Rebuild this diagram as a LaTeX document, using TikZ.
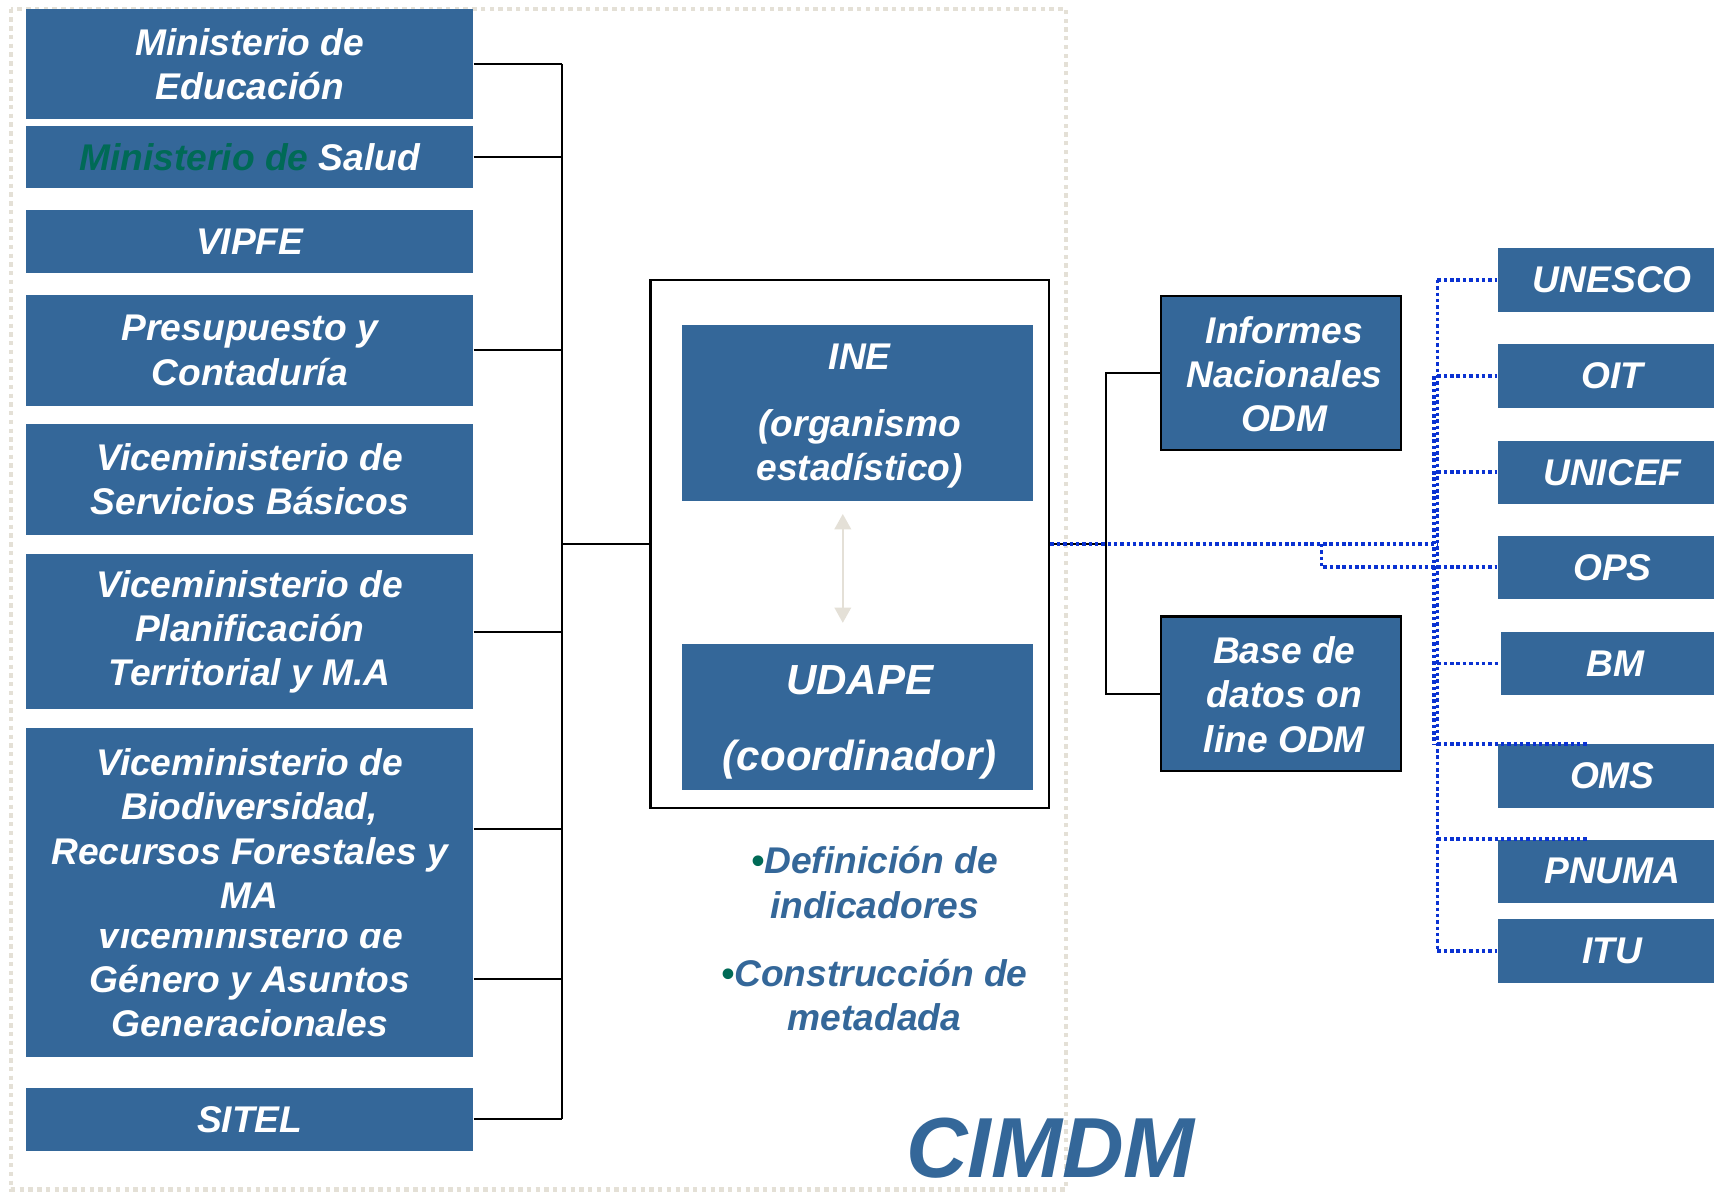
\documentclass[tikz,border=0pt]{standalone}
\usepackage{fontspec}
\setmainfont{Liberation Sans}
\usetikzlibrary{arrows.meta,calc}
\definecolor{boxblue}{HTML}{346799}
\definecolor{msgreen}{HTML}{006A56}
\definecolor{dotblue}{HTML}{0A32D2}
\definecolor{framegray}{HTML}{E4E0D6}
\definecolor{arrgray}{HTML}{E4E0D7}
\begin{document}
\begin{tikzpicture}[x=1pt,y=-1pt,
  bfont/.style={font=\bfseries\itshape\fontsize{34}{40.5}\selectfont},
  lbox/.style={bfont,fill=boxblue,text=white,minimum width=409pt,inner sep=0pt,align=center},
  rbox/.style={bfont,fill=boxblue,text=white,minimum width=210pt,minimum height=58pt,inner sep=0pt,align=center},
  obox/.style={fill=boxblue,draw=black,line width=2pt,minimum width=220pt,minimum height=141pt,inner sep=0pt},
  ibox/.style={fill=boxblue,minimum width=321pt,inner sep=0pt},
  wtext/.style={text=white,align=center,inner sep=0pt},
  conn/.style={draw=black,line width=1.8pt},
  bdot/.style={draw=dotblue,line width=3.4pt,dash pattern=on 3.2pt off 2.6pt},
  frame/.style={draw=framegray,line width=4pt,dash pattern=on 4pt off 4pt},
  arr/.style={draw=arrgray,line width=2pt,{Triangle[width=15pt,length=14pt]}-{Triangle[width=15pt,length=14pt]}},
  btext/.style={bfont,text=boxblue,align=center,inner sep=0pt}]
\clip (0,0) rectangle (1568,1091);
\fill[white] (0,0) rectangle (1568,1091);
\draw[frame] (10,8) rectangle (975,1088);

% left boxes
\node[lbox,minimum height=101pt] (edu) at (228.5,58.5) {Ministerio de\\Educación};
\node[lbox,minimum height=57pt] (salud) at (228.5,143.5) {\textcolor{msgreen}{Ministerio de} Salud};
\node[lbox,minimum height=58pt] (vipfe) at (228.5,221) {VIPFE};
\node[lbox,minimum height=101pt] (pres) at (228.5,320.5) {Presupuesto y\\Contaduría};
\node[lbox,minimum height=101pt] (serv) at (228.5,438.5) {Viceministerio de\\Servicios Básicos};
\node[lbox,minimum height=142pt] (plan) at (228.5,578) {Viceministerio de\\Planificación\\Territorial y M.A};
\node[lbox,minimum height=142pt] (gen) at (228.5,896) {Viceministerio de\\Género y Asuntos\\Generacionales};
\node[lbox,minimum height=184pt] (bio) at (228.5,758) {Viceministerio de\\Biodiversidad,\\Recursos Forestales y\\MA};
\node[lbox,minimum height=58pt] (sitel) at (228.5,1024) {SITEL};

% central box
\node[draw=black,line width=2pt,fill=white,minimum width=365pt,minimum height=483pt,inner sep=0pt] (central) at (777.5,497.5) {};
\node[ibox,minimum height=161pt] (ine) at (784.5,377.5) {};
\node[wtext,font=\bfseries\itshape\fontsize{34}{40.5}\selectfont] (inetxt) at ($(ine.center)+(2,3)$) {INE\\[20.5pt](organismo\\estadístico)};
\node[ibox,minimum height=134pt] (udape) at (784.5,656) {};
\node[wtext,font=\bfseries\itshape\fontsize{38.5}{46}\selectfont] (udapetxt) at ($(udape.center)+(2,5)$) {UDAPE\\[24pt](coordinador)};
\draw[arr] ($(ine.south)+(-13.5,12)$) -- ($(udape.north)+(-13.5,-19)$);

% bullets
\node[btext] (def) at (800,807.5) {\textcolor{msgreen}{•}Definición de\\indicadores};
\node[btext] (cons) at (800,910) {\textcolor{msgreen}{•}Construcción de\\metadada};
\node[font=\bfseries\itshape\fontsize{78}{80}\selectfont,text=boxblue,inner sep=0pt] (cimdm) at (961,1050) {CIMDM};

% left connectors
\coordinate (lbus) at (514,0);
\foreach \n in {edu,salud,pres,plan,bio,gen,sitel}
  \draw[conn] (\n.east) -- (\n.east -| lbus);
\draw[conn] (edu.east -| lbus) -- (sitel.east -| lbus);
\draw[conn] (central.west -| lbus) -- (central.west);

% right outputs
\node[obox] (inf) at (1172,341.5) {};
\node[wtext,bfont] (inftxt) at ($(inf.center)+(3,1)$) {Informes\\Nacionales\\ODM};
\node[obox] (base) at (1172,634.5) {};
\node[wtext,bfont] (basetxt) at ($(base.center)+(3,1)$) {Base de\\datos on\\line ODM};
\coordinate (rbus) at (1012,0);
\draw[conn] (central.east) -- (central.east -| rbus);
\draw[conn] (inf.west) -- (inf.west -| rbus) -- (base.west -| rbus) -- (base.west);

% international boxes
\node[rbox] (unesco) at (1475,256) {UNESCO};
\node[rbox] (oit) at (1475,344) {OIT};
\node[rbox] (unicef) at (1475,432) {UNICEF};
\node[rbox] (ops) at (1475,519) {OPS};
\node[rbox] (bm) at (1478,607) {BM};
\node[rbox] (oms) at (1475,710) {OMS};
\node[rbox] (pnuma) at (1475,797) {PNUMA};
\node[rbox] (itu) at (1475,870) {ITU};

% dotted blue connectors
\coordinate (vb) at (1315,0);
\coordinate (br) at (1209,0);
\draw[bdot] (central.east) -- (central.east -| vb);
\draw[bdot] (central.east -| br) |- (ops.west);
\draw[bdot] (unesco.west -| vb) -- (itu.west -| vb);
\draw[bdot] ($(oit.west -| vb)+(-3,0)$) -- ($(oms.north west -| vb)+(-3,0)$);
\foreach \n in {unesco,oit,unicef,ops,bm,itu}
  \draw[bdot] (\n.west -| vb) -- (\n.west);
\draw[bdot] (oms.north west -| vb) -- ($(oms.north west)+(83,0)$);
\draw[bdot] (pnuma.north west -| vb) -- ($(pnuma.north west)+(83,0)$);
\end{tikzpicture}
\end{document}
